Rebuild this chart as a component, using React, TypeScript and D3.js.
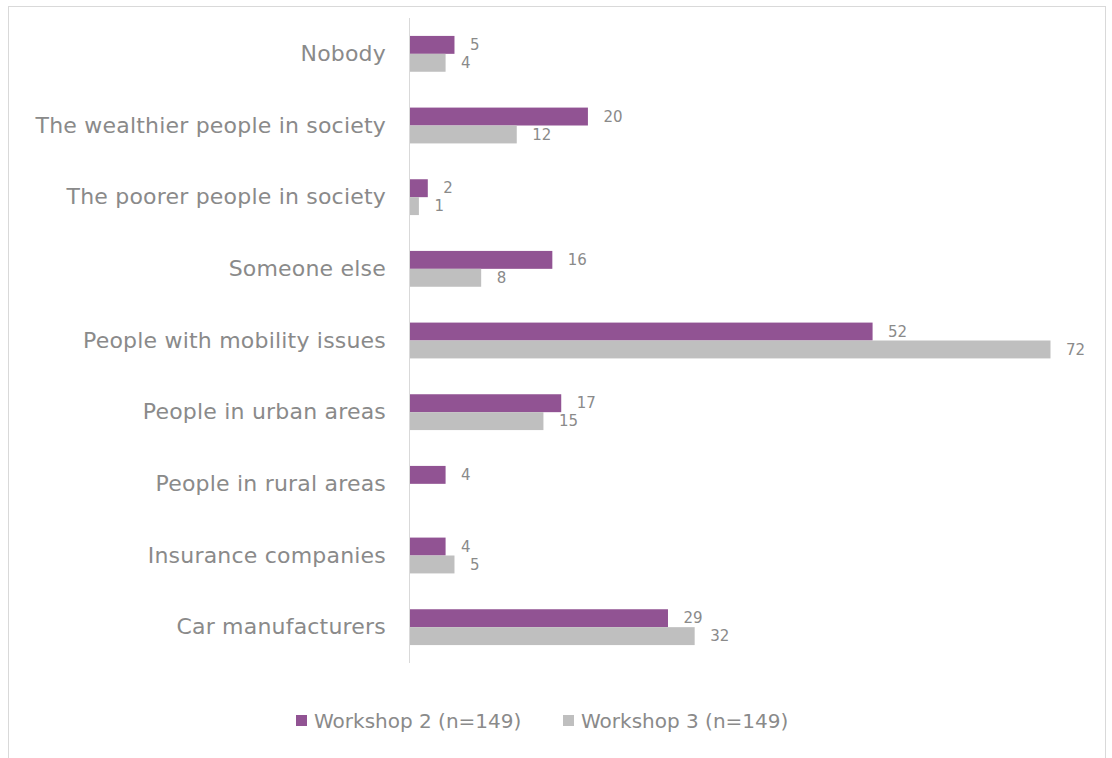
import React from "react";
import * as d3 from "d3";

const categories = [
  "Nobody",
  "The wealthier people in society",
  "The poorer people in society",
  "Someone else",
  "People with mobility issues",
  "People in urban areas",
  "People in rural areas",
  "Insurance companies",
  "Car manufacturers",
];
const workshop2: (number | null)[] = [5, 20, 2, 16, 52, 17, 4, 4, 29];
const workshop3: (number | null)[] = [4, 12, 1, 8, 72, 15, null, 5, 32];
const seriesNames = ["Workshop 2 (n=149)", "Workshop 3 (n=149)"];
const colors = ["#915393", "#bfbfbf"];

const W = 1112;
const H = 758;
const FONT = "'DejaVu Sans', sans-serif";
const TEXT = "#8a8a8a";

export default function App() {
  const x0 = 409.5;
  const x = d3.scaleLinear().domain([0, 72]).range([x0, 1050]);
  const y = d3.scaleBand().domain(categories).range([18, 663]).paddingInner(0.5).paddingOuter(0.25);
  const inner = d3.scaleBand().domain(["a", "b"]).range([0, y.bandwidth()]).padding(0);
  const series = [workshop2, workshop3];

  return (
    <svg width={W} height={H} style={{ position: "absolute", left: 0, top: 0 }}>
      <rect x={0} y={0} width={W} height={H} fill="#fff" />
      <rect x={8.5} y={6.5} width={1097} height={760} fill="#fff" stroke="#d9d9d9" strokeWidth={1} />
      <line x1={x0} x2={x0} y1={18} y2={663} stroke="#d9d9d9" strokeWidth={1} />
      {categories.map((c, i) => {
        const yb = y(c)!;
        return (
          <g key={c}>
            <text x={386} y={yb + y.bandwidth() / 2} dy="0.33em" textAnchor="end" fontFamily={FONT} fontSize={22} letterSpacing={0.2} fill={TEXT}>
              {c}
            </text>
            {series.map((s, k) => {
              const v = s[i];
              if (v == null) return null;
              const by = yb + inner(k === 0 ? "a" : "b")!;
              const bw = x(v) - x(0);
              return (
                <g key={k}>
                  <rect x={x0 + 0.5} y={by} width={bw} height={inner.bandwidth()} fill={colors[k]} />
                  <text x={x(v) + 16} y={by + inner.bandwidth() / 2} dy="0.35em" fontFamily={FONT} fontSize={15} fill={TEXT}>
                    {v}
                  </text>
                </g>
              );
            })}
          </g>
        );
      })}
      <g>
        <rect x={296} y={715} width={11} height={11} fill={colors[0]} />
        <text x={314} y={721} dy="0.35em" fontFamily={FONT} fontSize={20} fill={TEXT}>
          {seriesNames[0]}
        </text>
        <rect x={563} y={715} width={11} height={11} fill={colors[1]} />
        <text x={581} y={721} dy="0.35em" fontFamily={FONT} fontSize={20} fill={TEXT}>
          {seriesNames[1]}
        </text>
      </g>
    </svg>
  );
}
